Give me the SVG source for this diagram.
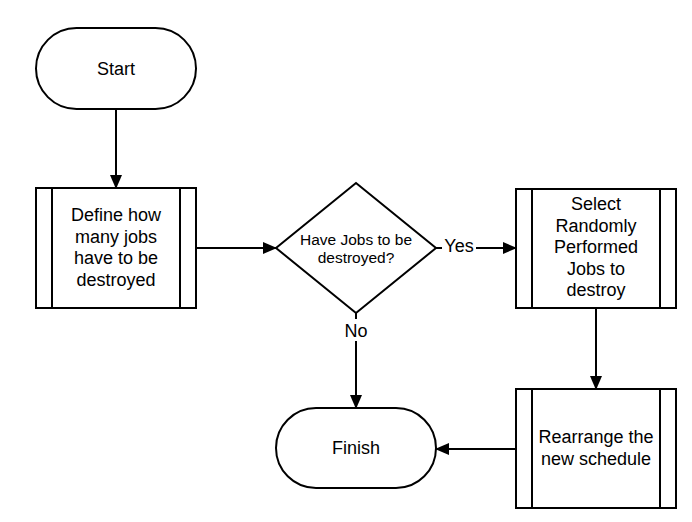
<svg xmlns="http://www.w3.org/2000/svg" width="692" height="522" viewBox="0 0 692 522">
<defs>
<marker id="arr" markerWidth="14" markerHeight="12" refX="13" refY="6" orient="auto" markerUnits="userSpaceOnUse">
<path d="M0,0 L14,6 L0,12 Z" fill="#000"/>
</marker>
<style>
.shape{fill:#fff;stroke:#000;stroke-width:2}
.line{fill:none;stroke:#000;stroke-width:2}
.conn{fill:none;stroke:#000;stroke-width:2;marker-end:url(#arr)}
text{font-family:"Liberation Sans",Arial,sans-serif;font-size:18px;fill:#000;text-anchor:middle}
.small{font-size:15.5px}
</style>
</defs>
<rect width="692" height="522" fill="#fff"/>
<g id="connectors">
<line class="conn" x1="116" y1="109" x2="116" y2="188"/>
<line class="conn" x1="196" y1="248" x2="276" y2="248"/>
<line class="conn" x1="436" y1="248" x2="516" y2="248"/>
<line class="conn" x1="356" y1="313" x2="356" y2="408"/>
<line class="conn" x1="596" y1="308" x2="596" y2="389"/>
<line class="conn" x1="516" y1="449" x2="436" y2="449"/>
<rect x="442" y="236" width="34" height="22" fill="#fff"/>
<text x="459" y="252">Yes</text>
<rect x="343" y="319" width="26" height="22" fill="#fff"/>
<text x="356" y="336.5">No</text>
</g>
<g id="start">
<rect class="shape" x="36" y="28" width="160" height="81" rx="40.5"/>
<text x="116" y="74.5">Start</text>
</g>
<g id="define">
<rect class="shape" x="36" y="188" width="160" height="120"/>
<line class="line" x1="52" y1="188" x2="52" y2="308"/>
<line class="line" x1="180" y1="188" x2="180" y2="308"/>
<text x="116" y="221">Define how</text>
<text x="116" y="242.5">many jobs</text>
<text x="116" y="264">have to be</text>
<text x="116" y="285.5">destroyed</text>
</g>
<g id="decision">
<polygon class="shape" points="356,183 436,248 356,313 276,248"/>
<text class="small" x="356" y="245">Have Jobs to be</text>
<text class="small" x="356" y="263">destroyed?</text>
</g>
<g id="select">
<rect class="shape" x="516" y="189" width="160" height="119"/>
<line class="line" x1="532" y1="189" x2="532" y2="308"/>
<line class="line" x1="660" y1="189" x2="660" y2="308"/>
<text x="596" y="210">Select</text>
<text x="596" y="231.5">Randomly</text>
<text x="596" y="253">Performed</text>
<text x="596" y="274.5">Jobs to</text>
<text x="596" y="296">destroy</text>
</g>
<g id="rearrange">
<rect class="shape" x="516" y="389" width="160" height="119"/>
<line class="line" x1="532" y1="389" x2="532" y2="508"/>
<line class="line" x1="660" y1="389" x2="660" y2="508"/>
<text x="596" y="443">Rearrange the</text>
<text x="596" y="465">new schedule</text>
</g>
<g id="finish">
<rect class="shape" x="276" y="408" width="160" height="80" rx="40"/>
<text x="356" y="453.5">Finish</text>
</g>
</svg>
